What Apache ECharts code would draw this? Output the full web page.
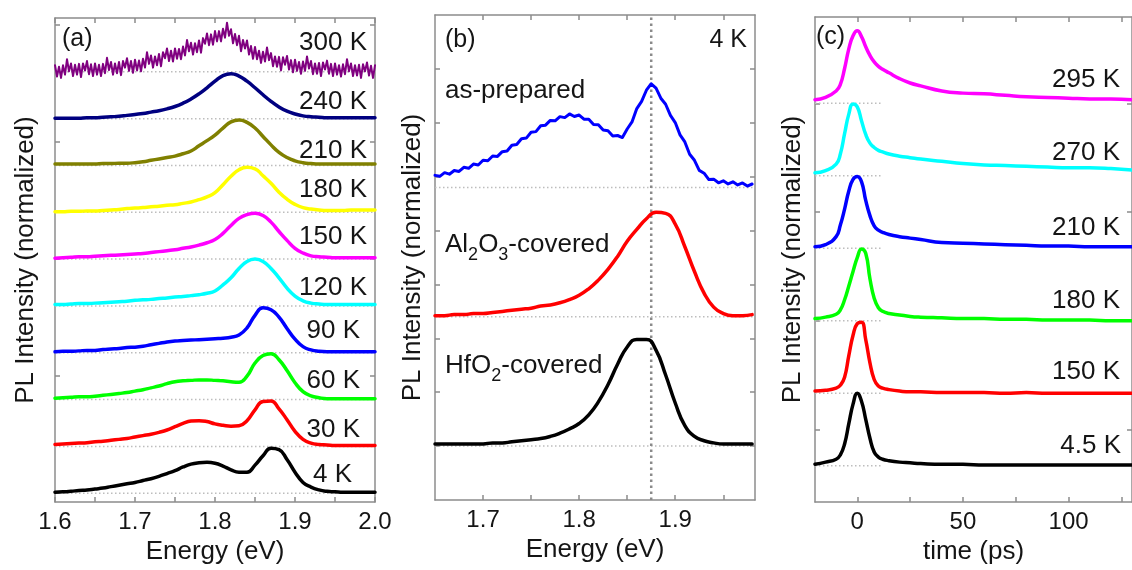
<!DOCTYPE html>
<html><head><meta charset="utf-8">
<script src="https://cdn.jsdelivr.net/npm/echarts@6/dist/echarts.min.js"></script>
<style>html,body{margin:0;padding:0;background:#fff;}#c{width:1132px;height:570px;}</style>
</head><body><div id="c"></div>
<script>
// ---------------- DATA ----------------
// Panel (a): PL spectra vs temperature (normalized), energy grid in eV
const energyA = [1.60,1.61,1.62,1.63,1.64,1.65,1.66,1.67,1.68,1.69,1.70,1.71,1.72,1.73,1.74,1.75,1.76,1.77,1.78,1.79,1.80,1.81,1.82,1.83,1.84,1.85,1.86,1.87,1.88,1.89,1.90,1.91,1.92,1.93,1.94,1.95,1.96,1.97,1.98,1.99,2.00];
const energyA300 = [
1.6,1.6025,1.605,1.6075,1.61,1.6125,1.615,1.6175,
1.62,1.6225,1.625,1.6275,1.63,1.6325,1.635,1.6375,
1.64,1.6425,1.645,1.6475,1.65,1.6525,1.655,1.6575,
1.66,1.6625,1.665,1.6675,1.67,1.6725,1.675,1.6775,
1.68,1.6825,1.685,1.6875,1.69,1.6925,1.695,1.6975,
1.7,1.7025,1.705,1.7075,1.71,1.7125,1.715,1.7175,
1.72,1.7225,1.725,1.7275,1.73,1.7325,1.735,1.7375,
1.74,1.7425,1.745,1.7475,1.75,1.7525,1.755,1.7575,
1.76,1.7625,1.765,1.7675,1.77,1.7725,1.775,1.7775,
1.78,1.7825,1.785,1.7875,1.79,1.7925,1.795,1.7975,
1.8,1.8025,1.805,1.8075,1.81,1.8125,1.815,1.8175,
1.82,1.8225,1.825,1.8275,1.83,1.8325,1.835,1.8375,
1.84,1.8425,1.845,1.8475,1.85,1.8525,1.855,1.8575,
1.86,1.8625,1.865,1.8675,1.87,1.8725,1.875,1.8775,
1.88,1.8825,1.885,1.8875,1.89,1.8925,1.895,1.8975,
1.9,1.9025,1.905,1.9075,1.91,1.9125,1.915,1.9175,
1.92,1.9225,1.925,1.9275,1.93,1.9325,1.935,1.9375,
1.94,1.9425,1.945,1.9475,1.95,1.9525,1.955,1.9575,
1.96,1.9625,1.965,1.9675,1.97,1.9725,1.975,1.9775,
1.98,1.9825,1.985,1.9875,1.99,1.9925,1.995,1.9975,
2.0];
const pl300K = [
.14,-.10,.11,-.13,.14,-.06,.27,.01,
.18,-.09,.15,-.06,.17,-.11,.18,.03,
.23,-.05,.16,-.09,.18,-.06,.15,-.09,
.17,-.03,.30,.04,.21,-.06,.18,-.03,
.21,-.07,.23,.09,.29,.02,.23,-.02,
.26,.03,.24,.01,.28,.09,.42,.17,
.35,.09,.33,.14,.38,.12,.42,.29,
.50,.23,.45,.22,.50,.28,.49,.27,
.54,.35,.68,.44,.62,.37,.61,.42,
.67,.41,.72,.60,.82,.57,.80,.58,
.87,.65,.87,.65,.92,.73,1.05,.77,
.91,.61,.81,.57,.77,.44,.68,.50,
.67,.37,.55,.28,.53,.27,.45,.19,
.43,.22,.52,.25,.40,.12,.33,.11,
.32,.03,.31,.15,.34,.05,.25,-.01,
.26,.02,.21,-.04,.22,.02,.33,.07,
.23,-.05,.18,-.04,.19,-.09,.20,.05,
.24,-.04,.17,-.09,.18,-.06,.14,-.10,
.16,-.05,.27,.01,.18,-.09,.14,-.08,
.15,-.13,.16,.01,.20,-.08,.13,-.13,
.14];
const pl240K = [.01,.01,.01,.01,.02,.02,.03,.04,.05,.07,.09,.11,.14,.17,.21,.26,.33,.42,.53,.66,.80,.92,.96,.91,.80,.66,.51,.37,.25,.16,.10,.06,.04,.03,.02,.02,.02,.02,.02,.02,.02];
const pl210K = [.03,.03,.03,.03,.03,.03,.04,.04,.05,.05,.06,.08,.11,.14,.17,.20,.25,.31,.42,.53,.65,.80,.93,.97,.92,.80,.62,.44,.28,.17,.10,.06,.04,.03,.03,.03,.03,.03,.03,.03,.03];
const pl180K = [.01,.01,.02,.02,.03,.03,.04,.05,.06,.08,.09,.10,.12,.13,.15,.16,.19,.22,.27,.33,.42,.59,.77,.91,.96,.93,.78,.62,.43,.28,.17,.10,.07,.05,.04,.04,.04,.05,.05,.05,.05];
const pl150K = [.02,.03,.04,.05,.05,.06,.07,.08,.09,.10,.11,.12,.14,.16,.18,.20,.23,.26,.30,.35,.42,.55,.72,.87,.95,.98,.93,.79,.59,.40,.23,.13,.07,.05,.04,.03,.03,.03,.03,.03,.03];
const pl120K = [.03,.03,.04,.05,.05,.06,.07,.08,.09,.10,.12,.13,.14,.16,.17,.19,.20,.22,.24,.27,.32,.45,.60,.80,.95,1.00,.95,.80,.60,.38,.21,.11,.06,.04,.03,.03,.03,.03,.03,.03,.03];
const pl90K  = [.02,.03,.03,.04,.05,.05,.07,.08,.09,.11,.12,.14,.17,.20,.23,.25,.26,.27,.28,.29,.30,.31,.33,.38,.53,.80,.96,.92,.76,.52,.29,.13,.06,.03,.02,.02,.02,.02,.02,.02,.02];
const pl60K  = [.03,.04,.05,.06,.06,.07,.09,.11,.13,.15,.18,.21,.25,.29,.34,.38,.40,.41,.42,.42,.41,.40,.38,.37,.50,.78,.94,.98,.85,.62,.36,.17,.08,.04,.02,.02,.02,.02,.02,.02,.02];
const pl30K  = [.04,.05,.06,.07,.08,.10,.11,.13,.15,.17,.20,.23,.26,.30,.35,.42,.49,.54,.55,.53,.48,.45,.43,.44,.55,.78,.96,.97,.80,.57,.32,.15,.07,.04,.03,.02,.02,.02,.02,.02,.02];
const pl4K   = [.02,.03,.04,.06,.07,.09,.11,.14,.17,.20,.23,.27,.31,.36,.42,.48,.56,.62,.65,.66,.64,.58,.50,.45,.45,.60,.80,.96,.93,.72,.45,.23,.13,.07,.04,.03,.02,.02,.02,.02,.02];
const labelsA = ['300 K','240 K','210 K','180 K','150 K','120 K','90 K','60 K','30 K','4 K'];
const offsetsA = [9,8,7,6,5,4,3,2,1,0];
const ticksAx = [1.60,1.65,1.70,1.75,1.80,1.85,1.90,1.95,2.00];
const tickLabelsA = [1.6,1.7,1.8,1.9,2.0];

// Panel (b): 4 K spectra of differently covered samples
const energyB = [1.65,1.66,1.67,1.68,1.69,1.70,1.71,1.72,1.73,1.74,1.75,1.76,1.77,1.78,1.79,1.80,1.81,1.82,1.83,1.84,1.85,1.86,1.87,1.88,1.89,1.90,1.91,1.92,1.93,1.94,1.95,1.96,1.97,1.98];
const energyBfine = [1.650,1.655,1.660,1.665,1.670,1.675,1.680,1.685,1.690,1.695,1.700,1.705,1.710,1.715,1.720,1.725,1.730,1.735,1.740,1.745,1.750,1.755,1.760,1.765,1.770,1.775,1.780,1.785,1.790,1.795,1.800,1.805,1.810,1.815,1.820,1.825,1.830,1.835,1.840,1.845,1.850,1.855,1.860,1.865,1.870,1.875,1.880,1.885,1.890,1.895,1.900,1.905,1.910,1.915,1.920,1.925,1.930,1.935,1.940,1.945,1.950,1.955,1.960,1.965,1.970,1.975,1.980];
const plAsPrepared = [.112,.103,.137,.123,.157,.148,.187,.178,.217,.208,.252,.248,.292,.288,.332,.338,.392,.398,.452,.458,.512,.518,.572,.578,.622,.618,.657,.648,.682,.658,.672,.633,.632,.583,.582,.533,.527,.478,.482,.463,.542,.608,.732,.798,.902,.962,.922,.828,.772,.668,.602,.488,.422,.308,.252,.158,.132,.073,.077,.043,.062,.033,.052,.023,.042,.013,.032];
const plAl2O3 = [.01,.01,.02,.02,.03,.03,.04,.05,.06,.07,.08,.10,.11,.13,.16,.20,.26,.34,.44,.56,.70,.81,.91,.97,.96,.86,.65,.42,.22,.09,.03,.01,.01,.02];
const plHfO2  = [.02,.02,.02,.02,.02,.02,.03,.03,.04,.05,.06,.07,.09,.12,.16,.21,.29,.41,.57,.76,.92,.99,.99,.89,.66,.40,.19,.09,.05,.03,.02,.02,.02,.02];
const offsetsB = [2.4,1.2,0];
const refLineB = 1.875;
const ticksBx = [1.70,1.75,1.80,1.85,1.90,1.95];
const tickLabelsB = [1.7,1.8,1.9];

// Panel (c): time-resolved PL (normalized)
const timePs = [-20,-15,-10,-8,-6,-4,-2,0,2,4,6,8,10,12,15,20,25,30,40,50,60,70,80,90,100,110,120,130];
const tr295K = [.05,.08,.17,.26,.48,.75,.93,1.00,.92,.78,.66,.57,.51,.47,.42,.34,.28,.24,.17,.14,.13,.11,.09,.08,.07,.06,.06,.05];
const tr270K = [.04,.07,.16,.30,.58,.85,.99,.95,.76,.57,.45,.39,.35,.33,.30,.27,.25,.23,.20,.17,.15,.14,.13,.12,.11,.11,.10,.08];
const tr210K = [.02,.05,.16,.32,.54,.79,.95,.99,.92,.66,.45,.31,.25,.22,.19,.16,.14,.12,.08,.07,.06,.05,.04,.03,.03,.02,.02,.02];
const tr180K = [.03,.05,.09,.15,.29,.48,.68,.87,.99,.93,.58,.31,.18,.13,.10,.08,.06,.05,.04,.03,.03,.02,.02,.01,.01,.01,0,0];
const tr150K = [.03,.04,.07,.11,.22,.52,.80,.96,.98,.74,.42,.19,.10,.07,.05,.03,.02,.02,.01,.01,.01,0,.01,0,0,0,0,0];
const tr4p5K = [.02,.05,.09,.15,.30,.58,.85,1.00,.89,.64,.38,.19,.12,.09,.07,.05,.04,.03,.02,.02,.01,.01,.01,.01,.01,.01,.01,.01];
const labelsC = ['295 K','270 K','210 K','180 K','150 K','4.5 K'];
const offsetsC = [5,4,3,2,1,0];
const ticksCx = [0,25,50,75,100,125];
const tickLabelsC = [0,50,100];

// ---------------- LAYOUT / STYLE ----------------
const FONT = '"Liberation Sans", Arial, sans-serif';
const AX = '#8c8c8c';
const TXT = '#151515';
const grids = [
  {left:55, top:18, width:320, height:485},
  {left:435, top:15, width:320, height:485},
  {left:815, top:17, width:320, height:485}
];
const xRange = [[1.6,2.0],[1.65,1.983],[-20,130]];
const yRange = [[-0.19,10.15],[-0.5,4.0],[-0.5,6.19]];
const baseSpan = [[1.6,2.0],[1.65,1.983],[-20,12]];
const yTicks = [[0,2.5,5,7.5,10],[0,0.5,1,1.5,2,2.5,3,3.5],[0.5,2,3.5,5]];
const yNameGap = [16,9,9];
const xNames = ['Energy (eV)','Energy (eV)','time (ps)'];
const xTickSets = [ticksAx, ticksBx, ticksCx];
const xLabelSets = [tickLabelsA, tickLabelsB, tickLabelsC];
const xFmt = [v=>v.toFixed(1), v=>v.toFixed(1), v=>String(Math.round(v))];

const colorsA = ['#800080','#000080','#808000','#ffff00','#ff00ff','#00ffff','#0000ff','#00ff00','#ff0000','#000000'];
const colorsB = ['#0000ff','#ff0000','#000000'];
const colorsC = ['#ff00ff','#00ffff','#0000ff','#00ff00','#ff0000','#000000'];

const xAxes = [], yAxes = [];
for (let g=0; g<3; g++) {
  const lineSt = {color:AX, width:1.5};
  const base = {type:'value', gridIndex:g, min:xRange[g][0], max:xRange[g][1], splitLine:{show:false},
    axisLine:{show:true, onZero:false, lineStyle:lineSt},
    axisTick:{show:true, inside:true, length:5, customValues:xTickSets[g], lineStyle:lineSt}};
  xAxes.push(Object.assign({}, base, {position:'bottom',
    axisLabel:{show:true, customValues:xLabelSets[g], margin:8, fontSize:24, fontFamily:FONT, color:TXT, formatter:xFmt[g]},
    name:xNames[g], nameLocation:'middle', nameGap:34, nameTextStyle:{fontSize:26, fontFamily:FONT, color:TXT}}));
  xAxes.push(Object.assign({}, base, {position:'top', axisLabel:{show:false}}));
  const ybase = {type:'value', gridIndex:g, min:yRange[g][0], max:yRange[g][1], splitLine:{show:false},
    axisLine:{show:true, onZero:false, lineStyle:lineSt},
    axisTick:{show:true, inside:true, length:5, customValues:yTicks[g], lineStyle:lineSt},
    axisLabel:{show:false}};
  yAxes.push(Object.assign({}, ybase, {position:'left', name:'PL Intensity (normalized)', nameLocation:'middle',
    nameRotate:90, nameGap:yNameGap[g], nameTextStyle:{fontSize:26, fontFamily:FONT, color:TXT}}));
  yAxes.push(Object.assign({}, ybase, {position:'right'}));
}

const series = [];
function baseline(g, off) {
  series.push({type:'line', xAxisIndex:2*g, yAxisIndex:2*g, data:[[baseSpan[g][0],off],[baseSpan[g][1],off]], symbol:'none', silent:true, z:1,
    lineStyle:{color:'#bdbdbd', width:1.5, type:[1.5,2.5]}});
}
function curve(g, xs, ys, off, color, smooth, width) {
  series.push({type:'line', xAxisIndex:2*g, yAxisIndex:2*g, data:xs.map((x,i)=>[x, ys[i]+off]), symbol:'none', silent:true, z:3,
    smooth:smooth, lineStyle:{color:color, width:width, join:'round', cap:'round'}});
}
// panel a
const seriesA = [pl300K,pl240K,pl210K,pl180K,pl150K,pl120K,pl90K,pl60K,pl30K,pl4K];
seriesA.forEach((ys,i)=>{
  baseline(0, offsetsA[i]);
  if (i===0) curve(0, energyA300, ys, offsetsA[i], colorsA[i], false, 2);
  else curve(0, energyA, ys, offsetsA[i], colorsA[i], 0.5, 3.5);
});
// panel b
const seriesB = [[energyBfine, plAsPrepared, false, 3],[energyB, plAl2O3, 0.5, 3.5],[energyB, plHfO2, 0.5, 3.5]];
seriesB.forEach((s,i)=>{
  baseline(1, offsetsB[i]);
  curve(1, s[0], s[1], offsetsB[i], colorsB[i], s[2], s[3]);
});
series.push({type:'line', xAxisIndex:2, yAxisIndex:2, data:[[refLineB,yRange[1][0]],[refLineB,yRange[1][1]]], symbol:'none', silent:true, z:2,
  lineStyle:{color:'#8a8a8a', width:2.5, type:[2.5,3.5]}});
// panel c
const seriesC = [tr295K,tr270K,tr210K,tr180K,tr150K,tr4p5K];
seriesC.forEach((ys,i)=>{
  baseline(2, offsetsC[i]);
  curve(2, timePs, ys, offsetsC[i], colorsC[i], 0.5, 3.5);
});

// text annotations (pixel layout)
const labelPosA = [[367,43],[367,102],[367,151],[367,190],[367,237],[367,288],[360,331],[360,381],[360,430],[352,475]];
const labelPosC = [[1120,80],[1120,153],[1120,228],[1120,301],[1120,372],[1121,446]];
const graphics = [];
function txt(x, y, text, align, size) {
  graphics.push({type:'text', x:x, y:y, silent:true, style:{text:text, fontSize:size||26, fontFamily:FONT, fill:TXT, align:align||'left', verticalAlign:'middle'}});
}
labelsA.forEach((t,i)=>txt(labelPosA[i][0], labelPosA[i][1], t, 'right'));
labelsC.forEach((t,i)=>txt(labelPosC[i][0], labelPosC[i][1], t, 'right'));
txt(62, 39, '(a)', 'left', 25);
txt(445, 40, '(b)', 'left', 25);
txt(747, 40, '4 K', 'right', 25);
txt(816, 37, '(c)', 'left', 25);
// texts with subscripts
const mctx = document.createElement('canvas').getContext('2d');
function subText(x, y, pieces) {
  let cx = x;
  pieces.forEach(p=>{
    const isSub = p[1];
    const size = isSub ? 18 : 26;
    mctx.font = size + 'px ' + FONT;
    graphics.push({type:'text', x:cx, y: isSub ? y+10 : y, silent:true, style:{text:p[0], fontSize:size, fontFamily:FONT, fill:TXT, align:'left', verticalAlign:'middle'}});
    cx += mctx.measureText(p[0]).width;
  });
}
subText(445, 91, [['as-prepared',false]]);
subText(445, 245, [['Al',false],['2',true],['O',false],['3',true],['-covered',false]]);
subText(445, 366, [['HfO',false],['2',true],['-covered',false]]);

const chart = echarts.init(document.getElementById('c'), null, {renderer:'canvas'});
chart.setOption({
  animation:false,
  backgroundColor:'#ffffff',
  grid:grids.map(g=>Object.assign({show:false, containLabel:false}, g)),
  xAxis:xAxes, yAxis:yAxes, series:series, graphic:graphics
});
</script></body></html>
